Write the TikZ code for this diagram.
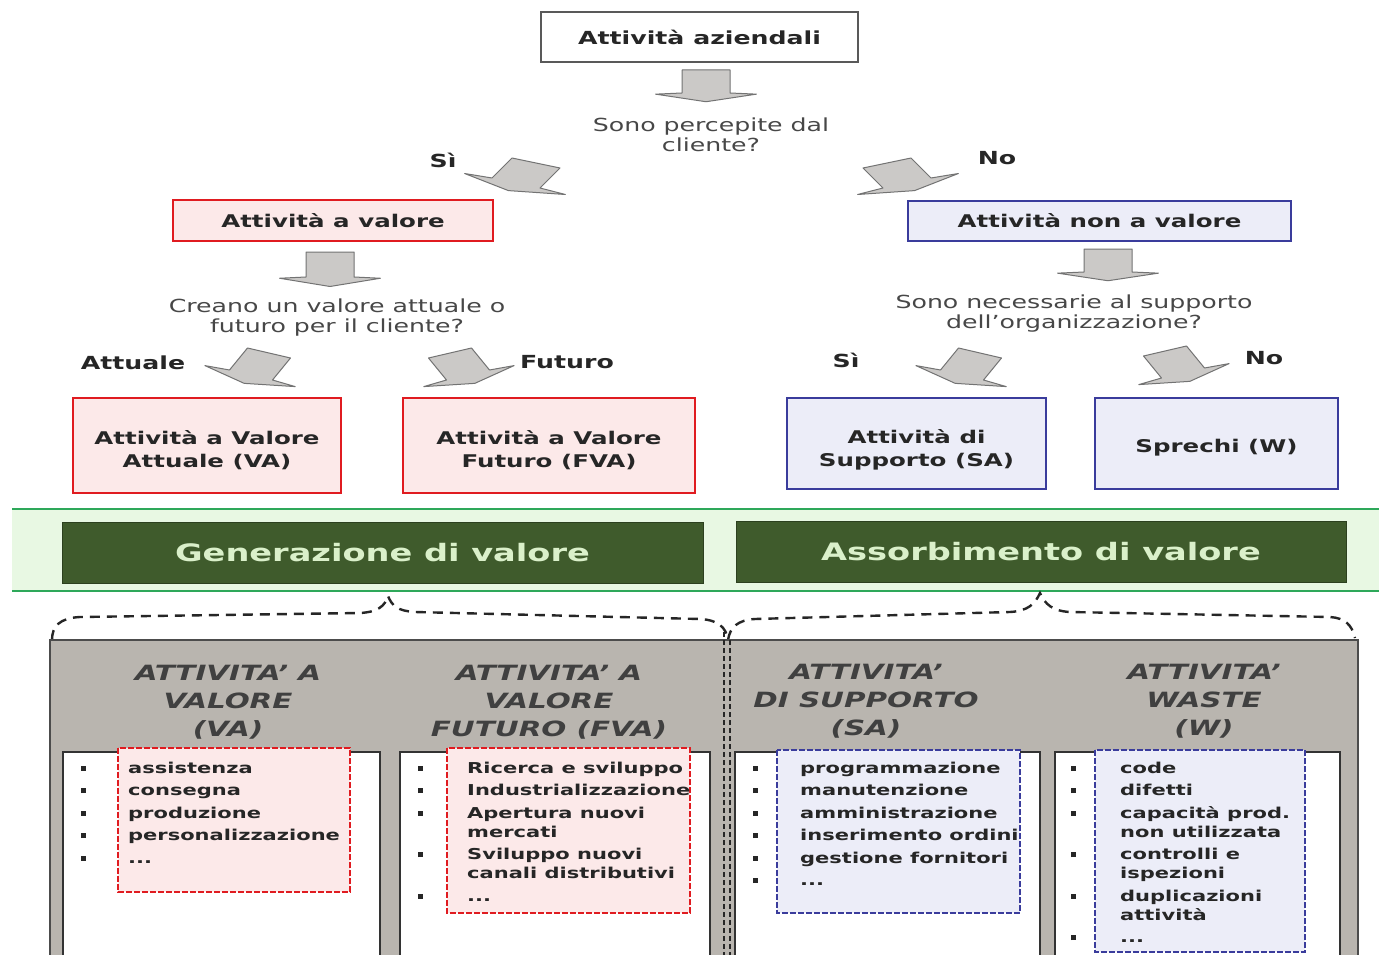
\documentclass[tikz,border=0pt]{standalone}
\usepackage{fontspec}
\setmainfont{DejaVu Sans}[FakeStretch=1.4]
\usepackage{xcolor}
\usepackage{tikz}
\usetikzlibrary{arrows,shapes,backgrounds,fit}

\definecolor{valred}{HTML}{E01B20}
\definecolor{valpink}{HTML}{FCE9E9}
\definecolor{nonblue}{HTML}{3A3C9C}
\definecolor{nonlav}{HTML}{ECEDF8}
\definecolor{bardark}{HTML}{3F5B2C}
\definecolor{barlight}{HTML}{DAF0CA}
\definecolor{bandlight}{HTML}{E8F8E3}
\definecolor{bandline}{HTML}{2EA85A}
\definecolor{panelgray}{HTML}{B9B5AF}
\definecolor{arrowgray}{HTML}{CBC9C7}

\newcommand{\blockarrow}{\filldraw[grayarrow] (-0.5,1) -- (0.5,1) -- (0.5,0) -- (1.05,-0.05) -- (0,-0.38) -- (-1.05,-0.05) -- (-0.5,0) -- cycle;}
\newcommand{\lbul}{\rule[2.5pt]{5pt}{5pt}}

\begin{document}
\begin{tikzpicture}[x=1pt,y=-1pt]
      \tikzstyle{plainbox}=[draw=black!65, line width=1.6pt, fill=white, minimum width=317pt, minimum height=50pt, font=\fontsize{18}{20}\selectfont\bfseries, text=black!85]
      \tikzstyle{valbox}=[draw=valred, line width=2.6pt, fill=valpink, font=\fontsize{17.5}{23}\selectfont\bfseries, text=black!85, align=center, inner sep=0pt]
      \tikzstyle{nonbox}=[valbox, draw=nonblue, fill=nonlav]
      \tikzstyle{box_text}=[font=\fontsize{17.5}{23}\selectfont\bfseries, text=black!85, align=center]
      \tikzstyle{question}=[font=\fontsize{18}{20}\selectfont, text=black!72, align=center]
      \tikzstyle{answer}=[font=\fontsize{18}{20}\selectfont\bfseries, text=black!85]
      \tikzstyle{greenbar}=[fill=bardark, draw=bardark!70!black, line width=1pt, font=\fontsize{24}{28}\selectfont\bfseries, text=barlight, inner sep=0pt]
      \tikzstyle{grayarrow}=[fill=arrowgray, draw=black!55, line width=1pt, line join=round]
      \tikzstyle{brace}=[black!85, line width=2.4pt, dash pattern=on 10pt off 7pt]
      \tikzstyle{panel}=[fill=white, draw=black!80, line width=1.6pt]
      \tikzstyle{heading}=[font=\fontsize{21}{28}\selectfont\bfseries\itshape, text=black!75, align=center]
      \tikzstyle{itemlist}=[font=\fontsize{15}{19}\selectfont\bfseries, text=black!85, inner sep=0pt, anchor=base west]
      \tikzstyle{redlist}=[fill=valpink, draw=valred, line width=2pt, dash pattern=on 6pt off 2pt]
      \tikzstyle{bluelist}=[redlist, fill=nonlav, draw=nonblue]

      \useasboundingbox (0,0) rectangle (1379,955);
      \fill[white] (0,0) rectangle (1379,955);

      % first question
      \node (azi) [plainbox] at (699.5,37) {Attività aziendali};
      \begin{scope}[shift={(706,93)}, x={(48pt,0pt)}, y={(0pt,23pt)}]
        \blockarrow
      \end{scope}
      \node (q1) [question] at (711,135) {Sono percepite dal\\cliente?};
      \node (si1) [answer] at (443,160) {Sì};
      \node (no1) [answer] at (997,158) {No};
      \begin{scope}[shift={(516,183)}, x={(48pt,-10pt)}, y={(20pt,20pt)}]
        \blockarrow
      \end{scope}
      \begin{scope}[shift={(907,183)}, x={(-48pt,-10pt)}, y={(-20pt,20pt)}]
        \blockarrow
      \end{scope}

      % second level
      \node (val) [valbox, minimum width=320pt, minimum height=41pt] at (333,220.5) {Attività a valore};
      \node (nonval) [nonbox, minimum width=383pt, minimum height=40pt] at (1099.5,221) {Attività non a valore};
      \begin{scope}[shift={(330,277)}, x={(48pt,0pt)}, y={(0pt,25pt)}]
        \blockarrow
      \end{scope}
      \begin{scope}[shift={(1108,272)}, x={(48pt,0pt)}, y={(0pt,23pt)}]
        \blockarrow
      \end{scope}
      \node (q2) [question] at (337,318) {Creano un valore attuale o\\futuro per il cliente?};
      \node (q3) [question] at (1074,314) {Sono necessarie al supporto\\dell'organizzazione?};

      \node (att) [answer] at (133,363) {Attuale};
      \node (fut) [answer] at (567,362) {Futuro};
      \node (si2) [answer] at (846,360) {Sì};
      \node (no2) [answer] at (1264,358) {No};
      \begin{scope}[shift={(251,375)}, x={(43pt,-10pt)}, y={(18pt,22pt)}]
        \blockarrow
      \end{scope}
      \begin{scope}[shift={(468,375)}, x={(-43pt,-10pt)}, y={(-18pt,22pt)}]
        \blockarrow
      \end{scope}
      \begin{scope}[shift={(962,375)}, x={(43pt,-10pt)}, y={(18pt,22pt)}]
        \blockarrow
      \end{scope}
      \begin{scope}[shift={(1183,373)}, x={(-43pt,-10pt)}, y={(-18pt,22pt)}]
        \blockarrow
      \end{scope}

      % third level
      \node (va) [valbox, minimum width=268pt, minimum height=95pt] at (207,445.5) {};
      \node at (va.center) [box_text, yshift=-5pt] {Attività a Valore\\Attuale (VA)};
      \node (fva) [valbox, minimum width=292pt, minimum height=95pt] at (549,445.5) {};
      \node at (fva.center) [box_text, yshift=-5pt] {Attività a Valore\\Futuro (FVA)};
      \node (sa) [nonbox, minimum width=259pt, minimum height=91pt] at (916.5,443.5) {};
      \node at (sa.center) [box_text, yshift=-6pt] {Attività di\\Supporto (SA)};
      \node (w) [nonbox, minimum width=243pt, minimum height=91pt] at (1216.5,443.5) {};
      \node at (w.center) [box_text, yshift=-4pt] {Sprechi (W)};

      % green band
      \fill[bandlight] (12,509) rectangle (1379,591);
      \draw[bandline, line width=2.5pt] (12,509) -- (1379,509) (12,591) -- (1379,591);
      \node (gen) [greenbar, minimum width=641pt, minimum height=61pt] at (382.5,552.5) {Generazione di valore};
      \node (ass) [greenbar, minimum width=610pt, minimum height=61pt] at (1041,551.5) {Assorbimento di valore};

      % braces
      \draw[brace] (52,640) .. controls (52,626) and (60,618) .. (80,617) -- (360,613)
        .. controls (378,612) and (385,606) .. (388,596)
        .. controls (392,606) and (398,611) .. (415,612) -- (700,619)
        .. controls (718,620) and (726,627) .. (728,640);
      \draw[brace] (728,640) .. controls (730,627) and (738,620) .. (755,619) -- (1010,612)
        .. controls (1028,611) and (1035,604) .. (1040,593)
        .. controls (1045,604) and (1052,611) .. (1070,612) -- (1330,617)
        .. controls (1345,618) and (1352,625) .. (1355,638);

      % lower panel
      \fill[panelgray] (50,640) rectangle (1358,960);
      \draw[black!70, line width=2pt] (50,960) -- (50,640) -- (1358,640) -- (1358,960);
      \draw[panel] (63,752) rectangle (380,960);
      \draw[panel] (400,752) rectangle (710,960);
      \draw[panel] (735,752) rectangle (1040,960);
      \draw[panel] (1055,752) rectangle (1340,960);
      \draw[black!85, line width=1.5pt, dash pattern=on 5pt off 3pt] (724,632) -- (724,960) (730,640) -- (730,960);

      \draw[redlist] (118,748) rectangle (350,892);
      \draw[redlist] (447,748) rectangle (690,913);
      \draw[bluelist] (777,750) rectangle (1020,913);
      \draw[bluelist] (1095,750) rectangle (1305,952);

      \node (hva) [heading] at (228,702) {ATTIVITA' A\\VALORE\\(VA)};
      \node (hfva) [heading] at (549,702) {ATTIVITA' A\\VALORE\\FUTURO (FVA)};
      \node (hsa) [heading] at (866,701) {ATTIVITA'\\DI SUPPORTO\\(SA)};
      \node (hw) [heading] at (1204,701) {ATTIVITA'\\WASTE\\(W)};

      \node (lva) [itemlist] at (81,773) {\begin{tabular}[t]{@{}p{47pt}@{}l@{}}
        \lbul & assistenza\\[3.5pt]
        \lbul & consegna\\[3.5pt]
        \lbul & produzione\\[3.5pt]
        \lbul & personalizzazione\\[3.5pt]
        \lbul & ...
      \end{tabular}};
      \node (lfva) [itemlist] at (418,773) {\begin{tabular}[t]{@{}p{49pt}@{}l@{}}
        \lbul & Ricerca e sviluppo\\[3.5pt]
        \lbul & Industrializzazione\\[3.5pt]
        \lbul & Apertura nuovi\\
              & mercati\\[3.5pt]
        \lbul & Sviluppo nuovi\\
              & canali distributivi\\[3.5pt]
        \lbul & ...
      \end{tabular}};
      \node (lsa) [itemlist] at (753,773) {\begin{tabular}[t]{@{}p{47pt}@{}l@{}}
        \lbul & programmazione\\[3.5pt]
        \lbul & manutenzione\\[3.5pt]
        \lbul & amministrazione\\[3.5pt]
        \lbul & inserimento ordini\\[3.5pt]
        \lbul & gestione fornitori\\[3.5pt]
        \lbul & ...
      \end{tabular}};
      \node (lw) [itemlist] at (1071,773) {\begin{tabular}[t]{@{}p{49pt}@{}l@{}}
        \lbul & code\\[3.5pt]
        \lbul & difetti\\[3.5pt]
        \lbul & capacità prod.\\
              & non utilizzata\\[3.5pt]
        \lbul & controlli e\\
              & ispezioni\\[3.5pt]
        \lbul & duplicazioni\\
              & attività\\[3.5pt]
        \lbul & ...
      \end{tabular}};
\end{tikzpicture}
\end{document}
